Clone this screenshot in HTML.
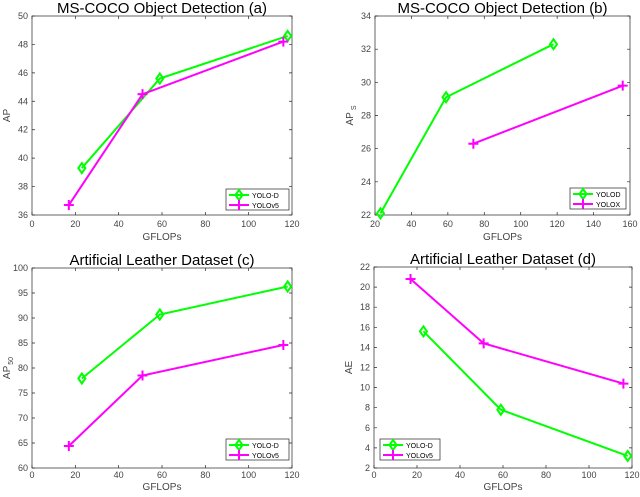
<!DOCTYPE html>
<html><head><meta charset="utf-8"><style>
body{margin:0;background:#fff;width:640px;height:492px;overflow:hidden}
svg{font-family:"Liberation Sans",sans-serif}
</style></head><body>
<svg id="c" width="640" height="492"></svg>
<script>
// Panel a
const aDX=[23,59,118], aDY=[39.3,45.6,48.6];
const aVX=[17,51,116], aVY=[36.7,44.5,48.2];
const aXT=[0,20,40,60,80,100,120], aYT=[36,38,40,42,44,46,48,50];
// Panel b
const bDX=[23,59,118], bDY=[22.1,29.1,32.3];
const bVX=[74,156], bVY=[26.3,29.8];
const bXT=[20,40,60,80,100,120,140,160], bYT=[22,24,26,28,30,32,34];
// Panel c
const cDX=[23,59,118], cDY=[77.9,90.7,96.3];
const cVX=[17,51,116], cVY=[64.4,78.5,84.6];
const cXT=[0,20,40,60,80,100,120], cYT=[60,65,70,75,80,85,90,95,100];
// Panel d
const dDX=[23,59,118], dDY=[15.6,7.8,3.2];
const dVX=[17,51,116], dVY=[20.8,14.4,10.4];
const dXT=[0,20,40,60,80,100,120], dYT=[2,4,6,8,10,12,14,16,18,20,22];

const NS="http://www.w3.org/2000/svg";
const svg=document.getElementById('c');
function mk(t,a,p){const e=document.createElementNS(NS,t);for(const k in a)e.setAttribute(k,a[k]);(p||svg).appendChild(e);return e;}
function diamond(g,x,y){return mk('polygon',{points:`${x},${y-5} ${x+3.5},${y} ${x},${y+5} ${x-3.5},${y}`,fill:'none',stroke:'#00ff00','stroke-width':2},g);}
function plus(g,x,y){return mk('path',{d:`M${x-5},${y}H${x+5}M${x},${y-5}V${y+5}`,stroke:'#ff00ff','stroke-width':2},g);}
function panel(o){
  const g=mk('g',{});
  
  
  const sx=v=>o.L+(v-o.x0)/(o.x1-o.x0)*(o.R-o.L);
  const sy=v=>o.B-(v-o.y0)/(o.y1-o.y0)*(o.B-o.T);
  const fr=mk('rect',{x:o.L,y:o.T,width:o.R-o.L,height:o.B-o.T,fill:'#fff',stroke:'#262626','stroke-width':0.7},g);
  
  
  o.xt.forEach(v=>{const x=sx(v);
    mk('path',{d:`M${x},${o.B}v-3M${x},${o.T}v3`,stroke:'#262626','stroke-width':0.7},g);
    const t=mk('text',{x:x,y:o.B+o.to,'text-anchor':'middle','font-size':9,fill:'#444'},g);t.textContent=v;
    
    });
  o.yt.forEach(v=>{const y=sy(v);
    mk('path',{d:`M${o.L},${y}h3M${o.R},${y}h-3`,stroke:'#262626','stroke-width':0.7},g);
    const t=mk('text',{x:o.L-4,y:y+3,'text-anchor':'end','font-size':9,fill:'#444'},g);t.textContent=v;
    
    });
  const tt=mk('text',{x:(o.L+o.R)/2,y:o.T-3,'text-anchor':'middle','font-size':15,fill:'#000'},g);tt.textContent=o.title;
  
  
  const xl=mk('text',{x:(o.L+o.R)/2,y:o.B+o.xo,'text-anchor':'middle','font-size':10,fill:'#444'},g);xl.textContent='GFLOPs';
  
  
  const yl=mk('text',{x:0,y:0,'text-anchor':'middle','font-size':10,fill:'#444',transform:`translate(${o.L-22},${(o.T+o.B)/2}) rotate(-90)`},g);
  yl.innerHTML=o.ylab;
  
  
  const series=[[o.dx,o.dy,'#00ff00',diamond],[o.vx,o.vy,'#ff00ff',plus]];
  series.forEach((s,i)=>{
    const pts=s[0].map((v,k)=>sx(v)+','+sy(s[1][k])).join(' ');
    const pl=mk('polyline',{points:pts,fill:'none',stroke:s[2],'stroke-width':2},g);
    
    
    s[0].forEach((v,k)=>{const m=s[3](g,sx(v),sy(s[1][k]));
      
      });
  });
  const lg=mk('g',{},g);
  
  
  const [lx,ly,lw]=o.leg;
  mk('rect',{x:lx,y:ly,width:lw,height:21,fill:'#fff',stroke:'#262626','stroke-width':0.7},lg);
  o.names.forEach((n,i)=>{const y=ly+6+i*10;
    mk('line',{x1:lx+3,x2:lx+23,y1:y,y2:y,stroke:i?'#ff00ff':'#00ff00','stroke-width':2},lg);
    if(i)plus(lg,lx+13,y);else diamond(lg,lx+13,y);
    const t=mk('text',{x:lx+26,y:y+3,'font-size':7,fill:'#000'},lg);t.textContent=n;
    
    });
}
panel({name:'chart-a',title:'MS-COCO Object Detection (a)',ylab:'AP',L:32,R:292,T:16,B:215,to:12,xo:25,x0:0,x1:120,y0:36,y1:50,xt:aXT,yt:aYT,dx:aDX,dy:aDY,vx:aVX,vy:aVY,leg:[226,189,63],names:['YOLO-D','YOLOv5']});
panel({name:'chart-b',title:'MS-COCO Object Detection (b)',ylab:'AP<tspan font-size="7" dy="3" dx="2">S</tspan>',L:375,R:630,T:16,B:215,to:12,xo:25,x0:20,x1:160,y0:22,y1:34,xt:bXT,yt:bYT,dx:bDX,dy:bDY,vx:bVX,vy:bVY,leg:[570,188,56],names:['YOLOD','YOLOX']});
panel({name:'chart-c',title:'Artificial Leather Dataset (c)',ylab:'AP<tspan font-size="7" dy="3" dx="1">50</tspan>',L:32,R:292,T:268,B:468,to:10,xo:22,x0:0,x1:120,y0:60,y1:100,xt:cXT,yt:cYT,dx:cDX,dy:cDY,vx:cVX,vy:cVY,leg:[226,439,63],names:['YOLO-D','YOLOv5']});
panel({name:'chart-d',title:'Artificial Leather Dataset (d)',ylab:'AE',L:374,R:632,T:267,B:468,to:10,xo:22,x0:0,x1:120,y0:2,y1:22,xt:dXT,yt:dYT,dx:dDX,dy:dDY,vx:dVX,vy:dVY,leg:[380,439,60],names:['YOLO-D','YOLOv5']});
</script>
</body></html>
